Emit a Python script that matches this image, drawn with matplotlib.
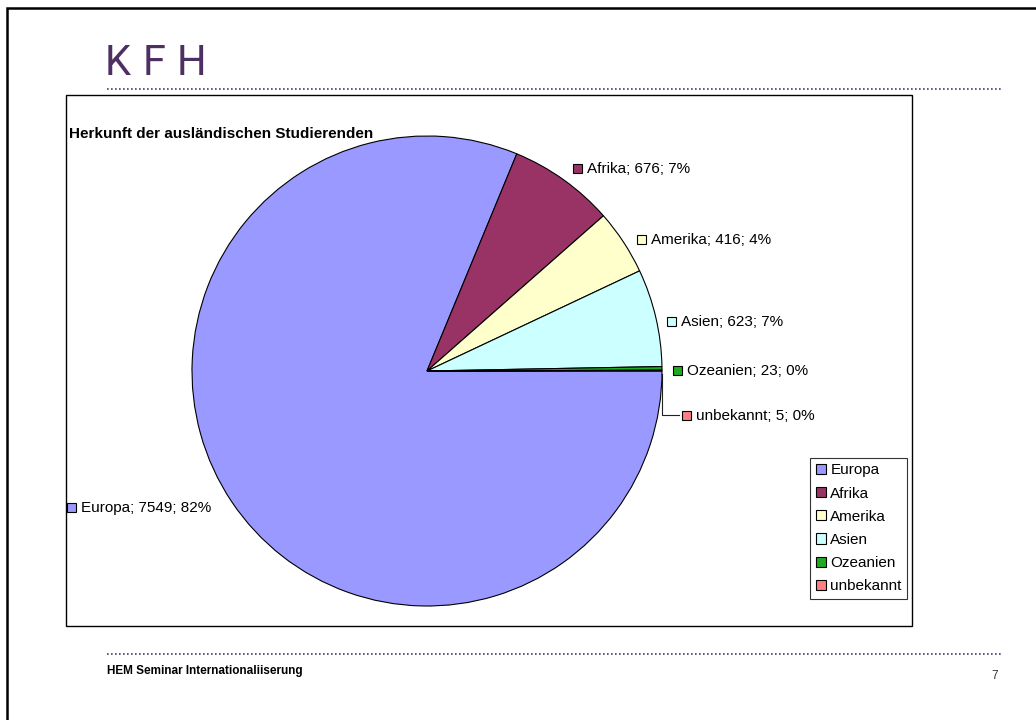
import matplotlib
matplotlib.use("Agg")
import matplotlib.pyplot as plt
from matplotlib.patches import Rectangle

plt.rcParams['font.family'] = ['Liberation Sans', 'DejaVu Sans']

# ---- data ----
categories = ["Europa", "Afrika", "Amerika", "Asien", "Ozeanien", "unbekannt"]
counts = [7549, 676, 416, 623, 23, 5]
percents = [82, 7, 4, 7, 0, 0]
colors = ["#9999FF", "#993366", "#FFFFCC", "#CCFFFF", "#20AA20", "#FF8080"]
title = "Herkunft der ausländischen Studierenden"
footer = "HEM Seminar Internationaliiserung"
page_no = "7"

W, H = 1036, 720
fig = plt.figure(figsize=(W / 100, H / 100), dpi=100)

# overlay in pixel coordinates for slide decoration
ov = fig.add_axes([0, 0, 1, 1])
ov.set_xlim(0, W)
ov.set_ylim(H, 0)
ov.axis('off')

# slide frame (cropped at right/bottom)
ov.plot([7, 7, W + 5], [H + 5, 8, 8], color='black', lw=1.8, solid_joinstyle='miter')

# logo
logo_col = "#4E2F62"
for ch, x in zip("KFH", [105, 143, 177]):
    ov.text(x, 75, ch, fontsize=30, color=logo_col, family=['Roboto', 'DejaVu Sans'],
            fontweight='normal', va='baseline', ha='left')

dot_col = "#4B3B6B"
ov.plot([107, 1003], [89, 89], color=dot_col, lw=1.2, linestyle=(0, (1, 1.4)))
ov.plot([107, 1003], [654, 654], color=dot_col, lw=1.2, linestyle=(0, (1, 1.4)))

# footer
ov.text(107, 674, footer, fontsize=8.5, fontweight='bold', va='baseline', ha='left')
ov.text(998, 679, page_no, fontsize=8.5, color='#333333', va='baseline', ha='right')

# chart area box
ov.add_patch(Rectangle((66, 95), 912 - 66, 626 - 95, fill=False, edgecolor='black', lw=1.0))
ov.text(69, 138, title, fontsize=11, fontweight='bold', va='baseline', ha='left')

# pie
cx, cy, r = 427, 371, 235
ax = fig.add_axes([(cx - r) / W, (H - cy - r) / H, 2 * r / W, 2 * r / H])
wedges, _ = ax.pie(counts, colors=colors, startangle=0, counterclock=False, radius=1,
                   wedgeprops=dict(edgecolor='black', linewidth=0.8))
ax.set_xlim(-1, 1)
ax.set_ylim(-1, 1)
ax.set_aspect('equal')
ax.axis('off')

# data labels (marker left x, centre y) in pixels
label_pos = [(67, 508), (573, 169), (637, 240), (667, 322), (673, 371), (682, 416)]
for cat, val, pct, col, (mx, my) in zip(categories, counts, percents, colors, label_pos):
    ov.add_patch(Rectangle((mx, my - 5), 9, 9, facecolor=col, edgecolor='black', lw=0.8))
    ov.text(mx + 14, my, f"{cat}; {val}; {pct}%", fontsize=11, va='center', ha='left')

# leader line for the smallest slice
ov.plot([662, 662, 679], [374, 415, 415], color='#222222', lw=0.8)

# legend
leg = fig.legend(wedges, categories, loc='upper right',
                 bbox_to_anchor=(907 / W, 1 - 458 / H), frameon=True, fancybox=False,
                 edgecolor='black', fontsize=11, handlelength=0.65, handleheight=0.65,
                 handletextpad=0.3, labelspacing=0.6, borderpad=0.35, borderaxespad=0)
leg.get_frame().set_linewidth(0.8)

fig.savefig("out.png", dpi=100, facecolor='white')
